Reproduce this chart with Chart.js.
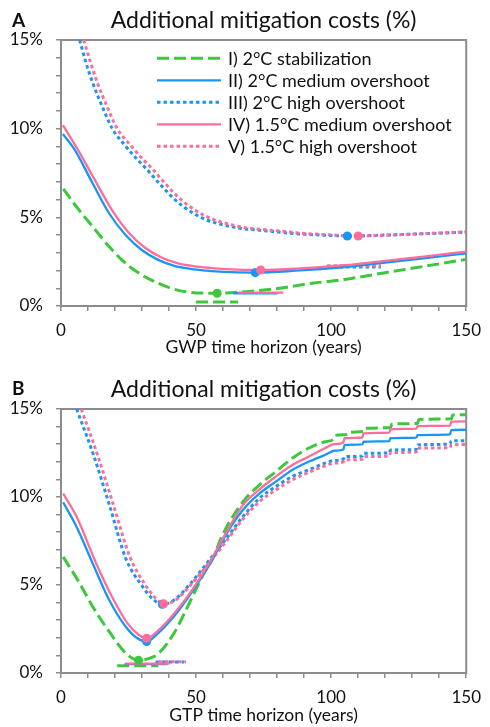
<!DOCTYPE html>
<html>
<head>
<meta charset="utf-8">
<title>Additional mitigation costs</title>
<script src="https://cdn.jsdelivr.net/npm/chart.js@4.4.1/dist/chart.umd.min.js"></script>
<style>
  html, body { margin: 0; padding: 0; background: #fff; }
  #wrap { position: relative; width: 490px; height: 727px; }
  canvas { position: absolute; left: 0; }
  #chartGwp { top: 0; }
  #chartGtp { top: 368px; }
</style>
</head>
<body>
<div id="wrap">
  <canvas id="chartGwp" width="490" height="359"></canvas>
  <canvas id="chartGtp" width="490" height="359"></canvas>
</div>
<script>
// ========== values ==========

const seriesLabels = [
    'I) 2°C stabilization',
    'II) 2°C medium overshoot',
    'III) 2°C high overshoot',
    'IV) 1.5°C medium overshoot',
    'V) 1.5°C high overshoot'
];
const xTickLabels = [0, 50, 100, 150];
const yTickLabels = [0, 5, 10, 15];

// Panel A - GWP time horizon: [years, cost %]
const gwpI = [[0.85, 6.6], [5.7, 5.6], [11.7, 4.48], [17.8, 3.35], [23.9, 2.41], [29.9, 1.75], [36, 1.28], [42, 0.94], [48, 0.77], [57.8, 0.72], [68.6, 0.81], [80.8, 1.0], [92.9, 1.28], [105, 1.5], [120, 1.88], [135, 2.25], [150, 2.63]];
const gwpII = [[0.7, 9.7], [5.1, 8.8], [11.7, 6.92], [17.8, 5.23], [23.9, 4.0], [29.9, 3.16], [36, 2.6], [42, 2.26], [48, 2.09], [54, 1.99], [60, 1.92], [71.9, 1.88], [86.8, 1.99], [105, 2.2], [120, 2.45], [135, 2.7], [150, 2.97]];
const gwpIII = [[6.9, 15], [9.3, 13.7], [11.7, 12.6], [15.4, 11.2], [19, 10.0], [24, 9.0], [28, 8.3], [32.3, 7.62], [36, 6.98], [42, 6.02], [48, 5.32], [54, 4.85], [60.2, 4.57], [66.2, 4.38], [72.3, 4.29], [78.3, 4.2], [86.8, 4.08], [96, 4.0], [106, 3.95], [120, 4.0], [135, 4.08], [150, 4.16]];
const gwpIV = [[0.7, 10.2], [6.3, 8.8], [12.9, 7.0], [19, 5.38], [25, 4.15], [31, 3.3], [37, 2.75], [43, 2.42], [49, 2.25], [55, 2.15], [61, 2.08], [73.9, 2.03], [87, 2.1], [105, 2.3], [120, 2.55], [135, 2.8], [150, 3.07]];
const gwpV = [[8.4, 15], [11, 13.7], [13.4, 12.6], [17.2, 11.2], [20.8, 10.0], [26, 9.02], [30, 8.33], [34.3, 7.65], [38, 7.0], [44, 6.05], [50, 5.37], [56, 4.9], [62, 4.62], [68, 4.42], [74, 4.32], [80, 4.24], [88, 4.12], [98, 4.02], [110, 3.96], [122, 4.0], [136, 4.09], [150, 4.18]];
const gwpRanges = [
    [[50, 0.23], [65.6, 0.23]],
    [[63.8, 0.72], [80.2, 0.72]],
    [[98.3, 2.2], [118.4, 2.2]],
    [[65.6, 0.75], [82.3, 0.75]],
    [[98.5, 2.27], [118.4, 2.27]]
];
const gwpMinima = [[57.8, 0.72], [71.9, 1.88], [106, 3.95], [73.9, 2.03], [110, 3.95]];

// Panel B - GTP time horizon: [years, cost %]
const gtpI = [[0.8, 6.6], [6.9, 5.1], [11.7, 3.78], [17.8, 2.36], [23.9, 1.13], [28.7, 0.72], [32, 0.8], [36, 1.1], [42, 2.3], [45.7, 3.4], [49.3, 4.54], [52.9, 5.67], [55.9, 6.43], [60, 7.9], [67.4, 9.74], [73.5, 10.69], [79.5, 11.44], [85.6, 12.2], [91.6, 12.77], [97.7, 13.14], [101, 13.3], [101.5, 13.5], [106.5, 13.55], [107, 13.68], [112, 13.72], [112.5, 13.9], [122, 13.95], [122.5, 14.15], [132, 14.18], [132.5, 14.41], [144.5, 14.44], [145, 14.66], [150, 14.68]];
const gtpII = [[0.8, 9.7], [5.7, 8.32], [11.7, 6.24], [17.8, 4.16], [23.9, 2.64], [28, 2.0], [31.7, 1.79], [36, 2.27], [42, 3.25], [48, 4.5], [55.3, 6.24], [61.4, 7.95], [67.4, 9.27], [73.5, 10.2], [79.5, 10.87], [85.6, 11.54], [91.6, 12.0], [97.7, 12.39], [101.3, 12.63], [104.5, 12.7], [105, 12.96], [111.5, 12.99], [112, 13.14], [121.5, 13.18], [122, 13.34], [131.5, 13.37], [132, 13.52], [144, 13.56], [144.5, 13.8], [150, 13.82]];
const gtpIII = [[5.8, 15], [12, 12.4], [18, 9.5], [24, 6.5], [30, 4.95], [34, 4.2], [37.5, 3.9], [42, 4.16], [48, 5.1], [55, 6.43], [61, 7.6], [67.4, 8.9], [73.5, 9.93], [79.5, 10.59], [85.6, 11.16], [91.6, 11.54], [97.7, 11.92], [101, 12.07], [104.5, 12.15], [105, 12.29], [111.5, 12.32], [112, 12.48], [121.5, 12.5], [122, 12.67], [131.5, 12.7], [132, 12.96], [144, 13.0], [144.5, 13.18], [150, 13.2]];
const gtpIV = [[0.8, 10.2], [5.7, 8.9], [13, 6.24], [18.5, 4.45], [24.5, 2.85], [28.5, 2.2], [31.7, 1.97], [36, 2.42], [42, 3.4], [48, 4.6], [55.3, 6.35], [61.4, 8.05], [67.4, 9.55], [73.5, 10.44], [79.5, 11.16], [85.6, 11.82], [91.6, 12.29], [97.7, 12.77], [101, 13.0], [104.5, 13.1], [105, 13.34], [111.5, 13.38], [112, 13.62], [121.5, 13.66], [122, 13.85], [131.5, 13.88], [132, 14.03], [144, 14.06], [144.5, 14.28], [150, 14.3]];
const gtpV = [[7.5, 15], [13.5, 12.4], [19.5, 9.5], [25.5, 6.6], [31, 5.05], [35, 4.25], [38, 3.93], [42, 4.1], [48, 5.0], [55, 6.3], [61, 7.45], [67.4, 8.75], [73.5, 9.74], [79.5, 10.4], [85.6, 10.97], [91.6, 11.39], [97.7, 11.77], [101, 11.92], [104.5, 12.0], [105, 12.1], [111.5, 12.14], [112, 12.29], [121.5, 12.32], [122, 12.52], [131.5, 12.55], [132, 12.77], [144, 12.8], [144.5, 12.96], [150, 12.98]];
const gtpRanges = [
    [[20.8, 0.41], [36, 0.41]],
    [[23.5, 0.5], [39.5, 0.5]],
    [[35, 0.62], [45.5, 0.62]],
    [[23.9, 0.53], [40.2, 0.53]],
    [[36, 0.64], [46.3, 0.64]]
];
const gtpMinima = [[28.7, 0.72], [31.7, 1.79], [37.5, 3.9], [31.7, 1.97], [38, 3.93]];

// ========== styles ==========

const GREEN = '#3cc83c';
const BLUE = '#1a95f5';
const PINK = '#fb6e9c';
const AXIS_GRAY = '#8c8c8c';
const TEXT = '#111';
const FONT = 'Lato';

const lineStyles = [
    { borderColor: GREEN, borderWidth: 3, borderDash: [12, 5] },
    { borderColor: BLUE, borderWidth: 2.3, borderDash: [] },
    { borderColor: BLUE, borderWidth: 3, borderDash: [3.5, 3] },
    { borderColor: PINK, borderWidth: 2.3, borderDash: [] },
    { borderColor: PINK, borderWidth: 3, borderDash: [3.5, 3] }
];
// lower order = drawn on top
const drawOrder = [5, 2, 4, 1, 3];

const toXY = pts => pts.map(([x, y]) => ({ x, y }));

// Panel letter + title over the plot area
const headerPlugin = {
    id: 'panelHeader',
    afterDraw(chart, args, opts) {
        const { ctx, chartArea } = chart;
        ctx.save();
        ctx.fillStyle = TEXT;
        ctx.textBaseline = 'alphabetic';
        ctx.textAlign = 'left';
        ctx.font = `bold 19px ${FONT}`;
        ctx.fillText(opts.letter, 12, opts.baseline - 1.5);
        ctx.textAlign = 'center';
        ctx.font = `23px ${FONT}`;
        ctx.fillText(opts.text, (chartArea.left + chartArea.right) / 2, opts.baseline);
        ctx.restore();
    }
};

// Grey frame round the plot area
const framePlugin = {
    id: 'plotFrame',
    beforeDatasetsDraw(chart) {
        const { ctx, chartArea: a } = chart;
        ctx.save();
        ctx.strokeStyle = AXIS_GRAY;
        ctx.lineWidth = 2;
        ctx.strokeRect(a.left, a.top, a.right - a.left, a.bottom - a.top);
        ctx.restore();
    }
};

// Legend inside panel A
const insideLegend = {
    id: 'insideLegend',
    afterDraw(chart, args, opts) {
        if (!opts.show) return;
        const ctx = chart.ctx;
        ctx.save();
        seriesLabels.forEach((label, i) => {
            const y = opts.top + i * opts.rowGap;
            const st = lineStyles[i];
            ctx.strokeStyle = st.borderColor;
            ctx.lineWidth = st.borderWidth;
            ctx.setLineDash(st.borderDash);
            ctx.beginPath();
            ctx.moveTo(opts.x0, y);
            ctx.lineTo(opts.x1, y);
            ctx.stroke();
            ctx.setLineDash([]);
            ctx.fillStyle = TEXT;
            ctx.font = `18px ${FONT}`;
            ctx.textAlign = 'left';
            ctx.textBaseline = 'middle';
            ctx.fillText(label, opts.textX, y + 0.5);
        });
        ctx.restore();
    }
};

function buildDatasets(curves, ranges, minima) {
    const datasets = [];
    curves.forEach((pts, i) => {
        const common = {
            ...lineStyles[i],
            order: drawOrder[i],
            pointRadius: 0,
            fill: false,
            cubicInterpolationMode: 'monotone',
            borderCapStyle: 'butt',
            borderJoinStyle: 'round'
        };
        datasets.push({ label: seriesLabels[i], data: toXY(pts), ...common });
        datasets.push({ label: seriesLabels[i] + ' range', data: toXY(ranges[i]), ...common });
    });
    datasets.push({
        label: 'minimum',
        data: toXY(minima),
        showLine: false,
        pointRadius: 4.5,
        pointBorderWidth: 0,
        pointBackgroundColor: lineStyles.map(s => s.borderColor),
        order: 0
    });
    return datasets;
}

function axisCommon() {
    return {
        grid: { drawOnChartArea: false, drawTicks: true, tickLength: 5, color: AXIS_GRAY, lineWidth: 1.5 },
        border: { color: AXIS_GRAY, width: 2 }
    };
}

function drawPanel(canvasId, cfg) {
    const ctx = document.getElementById(canvasId).getContext('2d');
    new Chart(ctx, {
        type: 'line',
        data: { datasets: buildDatasets(cfg.curves, cfg.ranges, cfg.minima) },
        plugins: [framePlugin, headerPlugin, insideLegend],
        options: {
            responsive: false,
            animation: false,
            layout: { padding: { top: cfg.topPad, right: 16, left: 0, bottom: 0 } },
            plugins: {
                legend: { display: false },
                tooltip: { enabled: false },
                panelHeader: { letter: cfg.letter, text: 'Additional mitigation costs (%)', baseline: cfg.titleBaseline },
                insideLegend: { show: cfg.legend, x0: 157, x1: 221, textX: 228, top: 58.3, rowGap: 22 }
            },
            scales: {
                x: {
                    type: 'linear',
                    min: 0,
                    max: 150,
                    afterFit: s => { s.height = cfg.axisHeight; },
                    ticks: {
                        stepSize: 10,
                        autoSkip: false,
                        maxRotation: 0,
                        padding: 9,
                        color: TEXT,
                        font: { family: FONT, size: 17 },
                        callback: v => xTickLabels.includes(v) ? String(v) : ''
                    },
                    title: {
                        display: true,
                        text: cfg.xTitle,
                        color: TEXT,
                        font: { family: FONT, size: 17.5 },
                        padding: { top: 0, bottom: 1 }
                    },
                    ...axisCommon()
                },
                y: {
                    min: 0,
                    max: 15,
                    afterFit: s => { s.width = 61; },
                    ticks: {
                        stepSize: 1,
                        autoSkip: false,
                        padding: 13,
                        color: TEXT,
                        font: { family: FONT, size: 17 },
                        callback: v => yTickLabels.includes(v) ? v + '%' : ''
                    },
                    ...axisCommon()
                }
            }
        }
    });
}

function drawAll() {
    drawPanel('chartGwp', {
        curves: [gwpI, gwpII, gwpIII, gwpIV, gwpV],
        ranges: gwpRanges,
        minima: gwpMinima,
        letter: 'A',
        xTitle: 'GWP time horizon (years)',
        titleBaseline: 28.3,
        topPad: 40,
        axisHeight: 53,
        legend: true
    });
    drawPanel('chartGtp', {
        curves: [gtpI, gtpII, gtpIII, gtpIV, gtpV],
        ranges: gtpRanges,
        minima: gtpMinima,
        letter: 'B',
        xTitle: 'GTP time horizon (years)',
        titleBaseline: 28.7,
        topPad: 41,
        axisHeight: 54,
        legend: false
    });
}

Promise.all([
    document.fonts.load(`17px ${FONT}`),
    document.fonts.load(`bold 19px ${FONT}`)
]).catch(() => null).then(drawAll);
</script>
</body>
</html>
